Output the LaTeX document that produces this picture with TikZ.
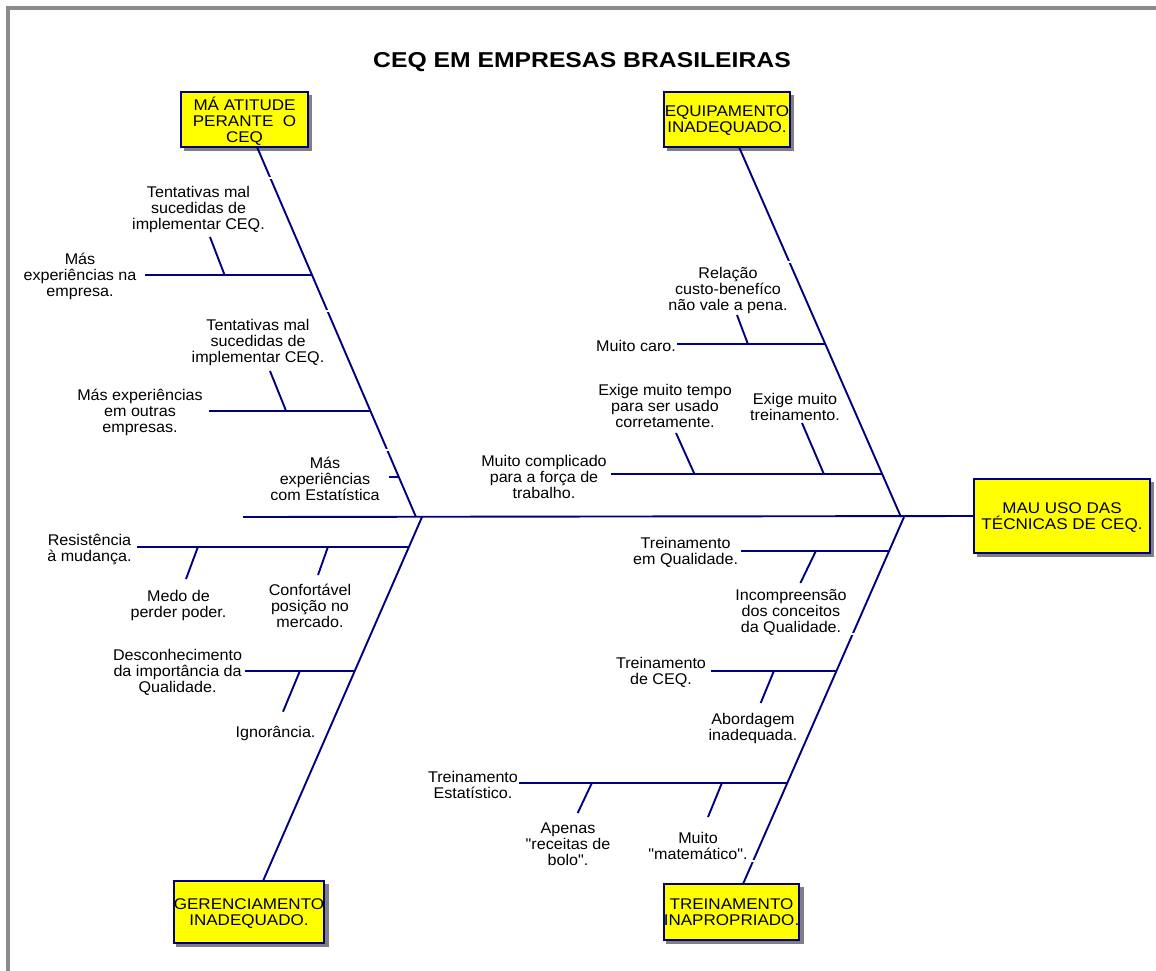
\documentclass[tikz,border=0pt]{standalone}
\usepackage{fontspec}
\setmainfont{Liberation Sans}
\newfontfamily\lblfont[FakeStretch=1.04]{Liberation Sans}
\newfontfamily\boxfont[FakeStretch=1.1]{Liberation Sans}
\newfontfamily\ttlfont[FakeStretch=1.15]{Liberation Sans}
\usetikzlibrary{backgrounds}
\definecolor{navy}{RGB}{0,0,128}
\definecolor{framegray}{RGB}{140,140,140}
\definecolor{shadowgray}{RGB}{128,128,128}
\definecolor{boxyellow}{RGB}{255,255,0}
\tikzset{
  bone/.style={draw=navy,line width=1.9},
  causebox/.style={draw=navy,line width=1.8,fill=boxyellow,inner sep=0,align=center,text depth=0pt,
    font=\boxfont\fontsize{15.5}{16}\selectfont},
  lbl/.style={inner sep=0,align=center,yshift=-2pt,font=\lblfont\fontsize{15.5}{16}\selectfont},
  gapcut/.style={draw=white,line width=2.5}
}
\begin{document}
\begin{tikzpicture}[x=1pt,y=-1pt]
\useasboundingbox (0,0) rectangle (1156,970);
% frame
\draw[framegray,line width=4] (8,972) -- (8,8.3) -- (1158,8.3);
% title
\node[inner sep=0,font=\ttlfont\bfseries\fontsize{21.5}{24}\selectfont] (title) at (582,62.5) {CEQ EM EMPRESAS BRASILEIRAS};

% cause boxes
\node[causebox,minimum width=127,minimum height=55] (box1) at (244.5,119.5) {MÁ ATITUDE\\PERANTE\ \ O\\CEQ};
\node[causebox,minimum width=126,minimum height=55] (box2) at (727,119.5) {EQUIPAMENTO\\INADEQUADO.};
\node[causebox,minimum width=176,minimum height=74] (box3) at (1062,516) {MAU USO DAS\\TÉCNICAS DE CEQ.};
\node[causebox,minimum width=150,minimum height=62] (box4) at (249,912) {GERENCIAMENTO\\INADEQUADO.};
\node[causebox,minimum width=135,minimum height=56] (box5) at (731.5,912) {TREINAMENTO\\INAPROPRIADO.};

\begin{scope}[on background layer]
\foreach \b in {box1,box2,box3,box4,box5}
  \fill[shadowgray] ([shift={(3.5,3.5)}]\b.south west) rectangle ([shift={(3.5,3.5)}]\b.north east);
\end{scope}

% spine and bones
\coordinate (tail) at (243,517);
\coordinate (J1) at (416,517);
\coordinate (J2) at (422,517);
\coordinate (J3) at (901,517);
\coordinate (J4) at (904,517);
\coordinate (b1) at (257,147);
\coordinate (b2) at (739,147);
\coordinate (b4) at (263,881);
\coordinate (b5) at (743,884);
\draw[bone] (tail) -- (box3.west);
\draw[bone] (b1) -- (J1);
\draw[bone] (b2) -- (J3);
\draw[bone] (J2) -- (b4);
\draw[bone] (J4) -- (b5);

% gaps in the bones
\foreach \p in {(271,178),(327.5,311),(387,450),(789,262),(852.5,634),(753,861)}
  \draw[gapcut] \p ++(-4,0) -- ++(8,0);

% ---- top-left ----
\node[lbl] (L1) at (80,274) {Más\\experiências na\\empresa.};
\node[lbl] (L2) at (198.5,207) {Tentativas mal\\sucedidas de\\implementar CEQ.};
\coordinate (r1a) at (145,275); \coordinate (r1b) at (312,275);
\coordinate (s1a) at (224.6,275); \coordinate (s1b) at (210,237);
\draw[bone] (r1a) -- (r1b); \draw[bone] (s1a) -- (s1b);

\node[lbl] (L3) at (140,410) {Más experiências\\em outras\\empresas.};
\node[lbl] (L4) at (258,340) {Tentativas mal\\sucedidas de\\implementar CEQ.};
\coordinate (r2a) at (209,410.7); \coordinate (r2b) at (370.3,410.7);
\coordinate (s2a) at (286,410.7); \coordinate (s2b) at (270,371);
\draw[bone] (r2a) -- (r2b); \draw[bone] (s2a) -- (s2b);

\node[lbl] (L5) at (325,477) {Más\\experiências\\com Estatística};
\coordinate (r3a) at (389,476.7); \coordinate (r3b) at (398.7,476.7);
\draw[bone] (r3a) -- (r3b);

% ---- bottom-left ----
\node[lbl] (L6) at (89.5,547) {Resistência\\à mudança.};
\node[lbl] (L7) at (178.5,603) {Medo de\\perder poder.};
\node[lbl] (L8) at (310,604) {Confortável\\posição no\\mercado.};
\coordinate (r4a) at (137,546.7); \coordinate (r4b) at (409,546.7);
\coordinate (s4a) at (198,546.7); \coordinate (s4b) at (186,579);
\coordinate (s5a) at (328,546.7); \coordinate (s5b) at (318,575);
\draw[bone] (r4a) -- (r4b); \draw[bone] (s4a) -- (s4b); \draw[bone] (s5a) -- (s5b);

\node[lbl] (L9) at (177.6,670) {Desconhecimento\\da importância da\\Qualidade.};
\node[lbl] (L10) at (275.6,731) {Ignorância.};
\coordinate (r5a) at (245,670.7); \coordinate (r5b) at (354.9,670.7);
\coordinate (s6a) at (300,670.7); \coordinate (s6b) at (283,711.7);
\draw[bone] (r5a) -- (r5b); \draw[bone] (s6a) -- (s6b);

% ---- top-right ----
\node[lbl] (R1) at (636,344) {Muito caro.};
\node[lbl] (R2) at (728,288) {Relação\\custo-benefíco\\não vale a pena.};
\coordinate (r6a) at (677,344.3); \coordinate (r6b) at (825.4,344.3);
\coordinate (s7a) at (748,344.3); \coordinate (s7b) at (737,315);
\draw[bone] (r6a) -- (r6b); \draw[bone] (s7a) -- (s7b);

\node[lbl] (R3) at (544,475) {Muito complicado\\para a força de\\trabalho.};
\node[lbl] (R4) at (665,404) {Exige muito tempo\\para ser usado\\corretamente.};
\node[lbl] (R5) at (795,404.5) {Exige muito\\treinamento.};
\coordinate (r7a) at (611,474.3); \coordinate (r7b) at (882.3,474.3);
\coordinate (s8a) at (694.6,474.3); \coordinate (s8b) at (676,433);
\coordinate (s9a) at (824,474.3); \coordinate (s9b) at (802,423);
\draw[bone] (r7a) -- (r7b); \draw[bone] (s8a) -- (s8b); \draw[bone] (s9a) -- (s9b);

% ---- bottom-right ----
\node[lbl] (R6) at (685.6,550) {Treinamento\\em Qualidade.};
\node[lbl] (R7) at (791,610) {Incompreensão\\dos conceitos\\da Qualidade.};
\coordinate (r8a) at (741,550.7); \coordinate (r8b) at (889.2,550.7);
\coordinate (s10a) at (816,550.7); \coordinate (s10b) at (800.4,583);
\draw[bone] (r8a) -- (r8b); \draw[bone] (s10a) -- (s10b);

\node[lbl] (R8) at (661,670) {Treinamento\\de CEQ.};
\node[lbl] (R9) at (753,726) {Abordagem\\inadequada.};
\coordinate (r9a) at (711,670.7); \coordinate (r9b) at (836.6,670.7);
\coordinate (s11a) at (774,670.7); \coordinate (s11b) at (760.7,703);
\draw[bone] (r9a) -- (r9b); \draw[bone] (s11a) -- (s11b);

\node[lbl] (R10) at (473,783) {Treinamento\\Estatístico.};
\node[lbl] (R11) at (568,842.6) {Apenas\\"receitas de\\bolo".};
\node[lbl] (R12) at (698,844) {Muito\\"matemático".};
\coordinate (r10a) at (519,782.7); \coordinate (r10b) at (787.4,782.7);
\coordinate (s12a) at (592,782.7); \coordinate (s12b) at (577.7,813);
\coordinate (s13a) at (722,782.7); \coordinate (s13b) at (708,817);
\draw[bone] (r10a) -- (r10b); \draw[bone] (s12a) -- (s12b); \draw[bone] (s13a) -- (s13b);
\end{tikzpicture}
\end{document}
